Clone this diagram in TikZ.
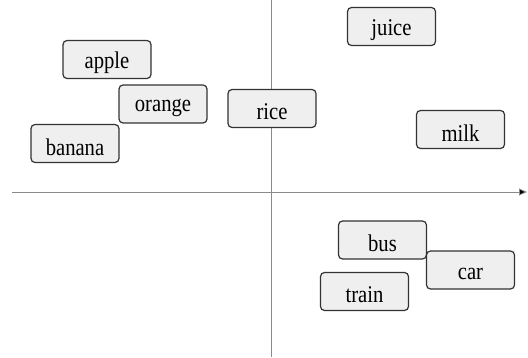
\documentclass[tikz,border=0pt]{standalone}
\usepackage{fontspec}
\usepackage{graphicx}
\setmainfont{Liberation Serif}
\usetikzlibrary{arrows.meta}
\definecolor{boxfill}{HTML}{EFEFEF}
\definecolor{boxline}{HTML}{333333}
\definecolor{axisline}{HTML}{8A8A8A}
\tikzset{
  word/.style={draw=boxline, line width=1.2pt, fill=boxfill, rounded corners=4pt,
    minimum width=88pt, minimum height=38pt, inner sep=0pt,
    font=\fontsize{24}{24}\selectfont, text=black},
  axis/.style={draw=axisline, line width=0.9pt}
}
\newcommand{\wtxt}[1]{\raisebox{-3.5pt}[\height][\depth]{\scalebox{0.86}[1]{#1}}}
\begin{document}
\begin{tikzpicture}[x=1pt,y=-1pt]
\useasboundingbox (0,0) rectangle (528,358);
\coordinate (xl) at (12,192);
\coordinate (xr) at (527,192);
\coordinate (yt) at (271,0);
\coordinate (yb) at (271,357);
\draw[axis] (yt) -- (yb);
\draw[axis, -{Triangle[length=8pt,width=7pt,fill=black]}] (xl) -- (xr);
\node[word] (apple) at (107,59.5) {\wtxt{apple}};
\node[word] (orange) at (163,104) {\wtxt{orange}};
\node[word] (banana) at (75,143.5) {\wtxt{banana}};
\node[word] (rice) at (272,108.5) {\wtxt{rice}};
\node[word] (juice) at (391.5,26.5) {\wtxt{juice}};
\node[word] (milk) at (460.5,129.5) {\wtxt{milk}};
\node[word] (bus) at (382.5,240) {\wtxt{bus}};
\node[word] (car) at (470.5,270) {\wtxt{car}};
\node[word] (train) at (364.5,291.5) {\wtxt{train}};
\end{tikzpicture}
\end{document}
